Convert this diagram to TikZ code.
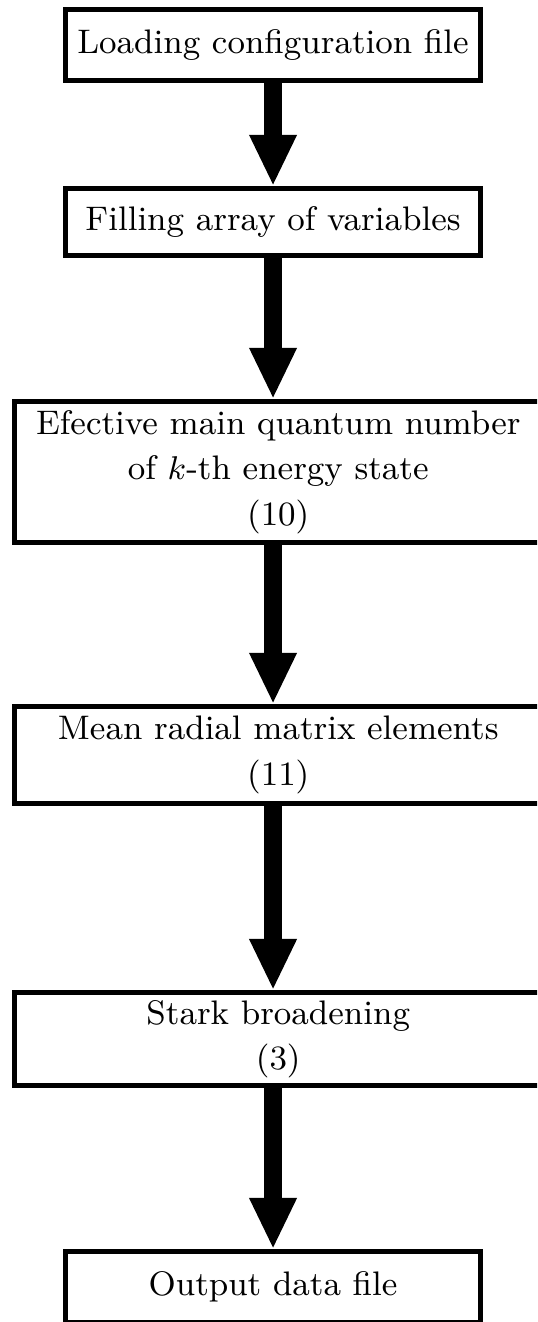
\documentclass[tikz,border=0pt]{standalone}
\usepackage{amsmath}
\usetikzlibrary{arrows.meta}

\begin{document}
\begin{tikzpicture}

% =========================
% Frame Geometry
% =========================
\def\PW{5.157}  % picture width
\def\PH{12.695} % picture height
\def\CX{2.622}  % centre line of the flow

\clip (0,0) rectangle (\PW,-\PH);

% =========================
% Styles
% =========================
\tikzset{
    stepbox/.style={
        draw,
        line width=1.37pt,
        align=center,
        inner sep=0pt,
        font=\fontsize{9.3}{12.4}\selectfont
    },
    flowarrow/.style={
        line width=5pt,
        -{Triangle[width=12pt,length=14pt]}
    }
}

% =========================
% Process Boxes
% =========================
\node[stepbox, minimum width=3.986cm, minimum height=0.682cm] (load) at (\CX,-0.432)
    {Loading configuration file};

\node[stepbox, minimum width=3.986cm, minimum height=0.643cm] (fill) at (\CX,-2.132)
    {Filling array of variables};

% Wide boxes run past the right edge of the frame
\node[stepbox, minimum width=5.066cm, minimum height=1.354cm] (quantum) at (2.672,-4.533)
    {Efective main quantum number\\of $k$-th energy state\\(10)};

\node[stepbox, minimum width=5.066cm, minimum height=0.932cm] (radial) at (2.672,-7.251)
    {Mean radial matrix elements\\(11)};

\node[stepbox, minimum width=5.066cm, minimum height=0.893cm] (stark) at (2.672,-9.979)
    {Stark broadening\\(3)};

\node[stepbox, minimum width=3.986cm, minimum height=0.677cm] (output) at (\CX,-12.358)
    {Output data file};

% =========================
% Flow Arrows
% =========================
\draw[flowarrow] (load.south) -- (fill.north);
\draw[flowarrow] (fill.south) -- (fill.south |- quantum.north);
\draw[flowarrow] (fill.south |- quantum.south) -- (fill.south |- radial.north);
\draw[flowarrow] (fill.south |- radial.south) -- (fill.south |- stark.north);
\draw[flowarrow] (fill.south |- stark.south) -- (output.north);

\end{tikzpicture}
\end{document}
